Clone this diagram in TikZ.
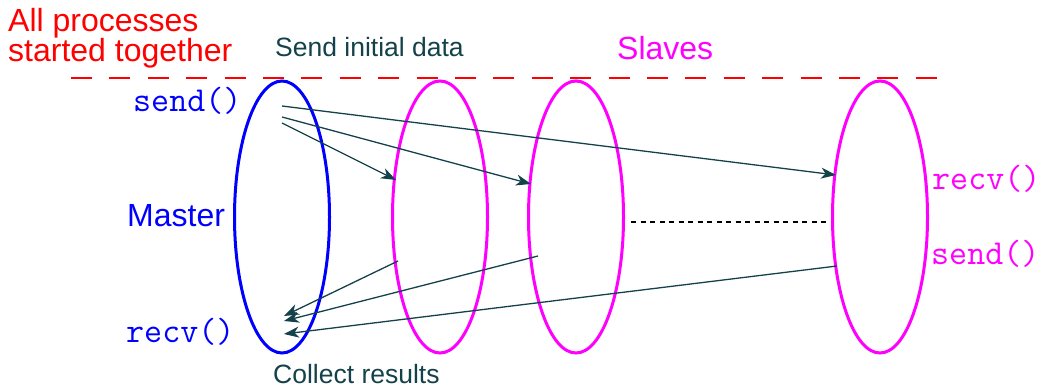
\documentclass[tikz,border=0pt]{standalone}
\usepackage{fontspec}
\setmainfont{Liberation Sans}
\usetikzlibrary{arrows.meta,shapes.geometric}
\definecolor{arr}{RGB}{20,66,74}
\definecolor{mag}{RGB}{255,0,255}
\begin{document}
\begin{tikzpicture}[x=1pt,y=-1pt,
  proc/.style={ellipse,draw,line width=3pt,minimum width=95pt,minimum height=272pt,inner sep=0pt},
  lbl/.style={anchor=base west,inner sep=0pt},
  big/.style={font=\fontsize{32}{35}\selectfont},
  mid/.style={font=\fontsize{26.5}{30}\selectfont},
  code/.style={font=\ttfamily\fontsize{35}{38}\selectfont},
  msg/.style={draw=arr,line width=1.3pt,-{Stealth[length=15pt,width=11pt,inset=4.5pt]},color=arr}]
\useasboundingbox (0,0) rectangle (1041,387);
% start line
\coordinate (la) at (71,78);
\coordinate (lb) at (937,78);
\draw[red,line width=2.2pt,dash pattern=on 21pt off 17.4pt] (la) -- (lb);
% labels
\node[lbl,big,red] (t1) at (8,32) {All processes};
\node[lbl,big,red] (t2) at (8,62) {started together};
\node[lbl,mid,arr] (sid) at (275,57) {Send initial data};
\node[lbl,big,mag] (sl) at (617,60) {Slaves};
\node[lbl,big,blue] (ma) at (127,227) {Master};
\node[lbl,mid,arr] (cr) at (273,383) {Collect results};
% processes
\node[proc,blue] (M) at (282,217) {};
\node[proc,mag] (S1) at (440,217) {};
\node[proc,mag] (S2) at (576,217) {};
\node[proc,mag] (S3) at (880,217) {};
% code labels
\node[lbl,code,blue] (ms) at (133,112) {send()};
\node[lbl,code,blue] (mr) at (126,342) {recv()};
\node[lbl,code,mag] (sr) at (932,190) {recv()};
\node[lbl,code,mag] (ss) at (931,265) {send()};
% message end points
\coordinate (a1) at (282,106);
\coordinate (a2) at (282,117);
\coordinate (a3) at (282,123);
\coordinate (b3) at (836,175);
\coordinate (b2) at (531,184);
\coordinate (b1) at (396,180);
\coordinate (c1) at (398,261);
\coordinate (c2) at (538,256);
\coordinate (c3) at (837,266);
\coordinate (d1) at (284,316);
\coordinate (d2) at (284,321);
\coordinate (d3) at (284,334);
\draw[msg] (a1) -- (b3);
\draw[msg] (a2) -- (b2);
\draw[msg] (a3) -- (b1);
\draw[msg] (c1) -- (d1);
\draw[msg] (c2) -- (d2);
\draw[msg] (c3) -- (d3);
% dotted continuation
\coordinate (e1) at (631,222);
\coordinate (e2) at (827,222);
\draw[black,line width=2pt,dash pattern=on 5pt off 4.5pt] (e1) -- (e2);
\end{tikzpicture}
\end{document}
